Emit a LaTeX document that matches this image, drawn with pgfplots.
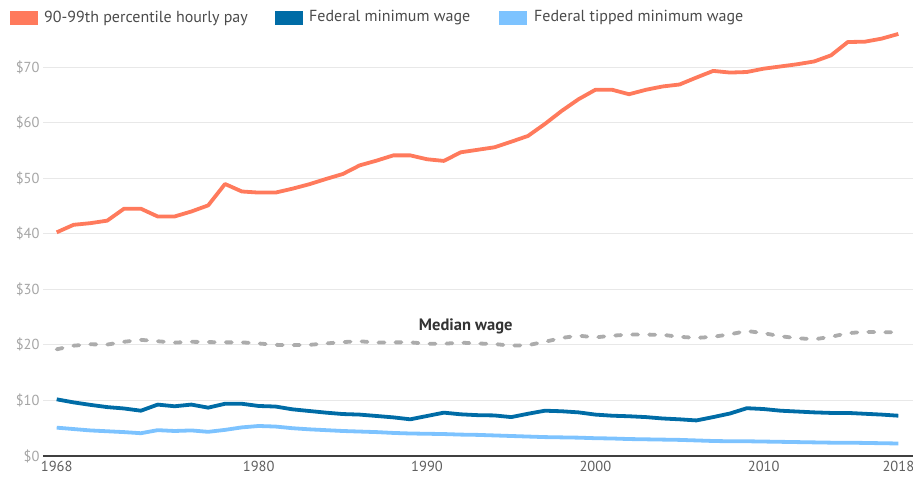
\documentclass[border=0pt]{standalone}
\usepackage{pgfplots}
\pgfplotsset{compat=1.18}
\usepackage{fontspec}
\setmainfont{PT Sans}
\definecolor{cOrange}{RGB}{255,122,92}
\definecolor{cBlue}{RGB}{0,108,166}
\definecolor{cLight}{RGB}{125,195,255}
\definecolor{cGray}{RGB}{172,172,172}
\definecolor{cGrid}{RGB}{232,232,232}
\definecolor{cTick}{RGB}{165,165,165}
\definecolor{cXTick}{RGB}{95,95,95}
\definecolor{cText}{RGB}{75,75,75}
\begin{document}
\begin{tikzpicture}[x=1pt,y=1pt]
\begin{axis}[
  at={(43pt,28pt)}, anchor=south west,
  scale only axis, width=870pt, height=426pt,
  xmin=1967.186, xmax=2018.87, ymin=0, ymax=76.66,
  axis line style={draw=none},
  xtick={1968,1980,1990,2000,2010,2018},
  xticklabels={1968,1980,1990,2000,2010,2018},
  ytick={0,10,20,30,40,50,60,70},
  yticklabels={\$0,\$10,\$20,\$30,\$40,\$50,\$60,\$70},
  tick style={draw=none},
  ymajorgrids, grid style={cGrid, line width=1pt},
  yticklabel style={font=\fontsize{14.5}{16}\selectfont, text=cTick, xshift=0pt},
  xticklabel style={font=\fontsize{14.5}{16}\selectfont, text=cXTick, yshift=-2pt},
  /pgf/number format/assume math mode=true,
  clip=false,
  every axis plot/.append style={line width=3.8pt, line join=round},
]
\draw[color=black!75, line width=1.5pt] (axis cs:1967.186,0) -- (axis cs:2018.87,0);
% median wage
\addplot[cGray, line cap=round, dash pattern=on 6pt off 11pt] coordinates {
(1968,19.2)(1969,19.85)(1970,20.1)(1971,20.05)(1972,20.55)(1973,20.9)(1974,20.65)(1975,20.4)(1976,20.55)(1977,20.5)
(1978,20.45)(1979,20.45)(1980,20.25)(1981,20.0)(1982,19.95)(1983,20.0)(1984,20.25)(1985,20.5)(1986,20.65)(1987,20.4)
(1988,20.45)(1989,20.45)(1990,20.2)(1991,20.2)(1992,20.4)(1993,20.25)(1994,20.15)(1995,19.85)(1996,19.95)(1997,20.55)
(1998,21.25)(1999,21.65)(2000,21.35)(2001,21.65)(2002,21.85)(2003,21.85)(2004,21.8)(2005,21.45)(2006,21.25)(2007,21.45)
(2008,21.9)(2009,22.5)(2010,22.1)(2011,21.55)(2012,21.2)(2013,21.0)(2014,21.45)(2015,22.1)(2016,22.35)(2017,22.25)(2018,22.3)
};
% tipped minimum
\addplot[cLight] coordinates {
(1968,5.1)(1969,4.85)(1970,4.6)(1971,4.45)(1972,4.3)(1973,4.1)(1974,4.65)(1975,4.5)(1976,4.6)(1977,4.35)
(1978,4.7)(1979,5.15)(1980,5.4)(1981,5.3)(1982,5.0)(1983,4.8)(1984,4.65)(1985,4.5)(1986,4.4)(1987,4.3)
(1988,4.15)(1989,4.05)(1990,4.0)(1991,3.95)(1992,3.85)(1993,3.8)(1994,3.7)(1995,3.6)(1996,3.5)(1997,3.4)
(1998,3.35)(1999,3.3)(2000,3.2)(2001,3.15)(2002,3.05)(2003,3.0)(2004,2.95)(2005,2.9)(2006,2.8)(2007,2.7)
(2008,2.65)(2009,2.65)(2010,2.6)(2011,2.55)(2012,2.5)(2013,2.45)(2014,2.4)(2015,2.4)(2016,2.35)(2017,2.3)(2018,2.25)
};
% federal minimum
\addplot[cBlue] coordinates {
(1968,10.2)(1969,9.65)(1970,9.2)(1971,8.8)(1972,8.55)(1973,8.15)(1974,9.25)(1975,8.95)(1976,9.25)(1977,8.7)
(1978,9.4)(1979,9.4)(1980,9.0)(1981,8.9)(1982,8.4)(1983,8.1)(1984,7.8)(1985,7.55)(1986,7.45)(1987,7.2)
(1988,6.95)(1989,6.6)(1990,7.2)(1991,7.8)(1992,7.5)(1993,7.35)(1994,7.3)(1995,7.0)(1996,7.6)(1997,8.15)
(1998,8.05)(1999,7.85)(2000,7.45)(2001,7.25)(2002,7.15)(2003,7.0)(2004,6.75)(2005,6.6)(2006,6.4)(2007,7.0)
(2008,7.65)(2009,8.6)(2010,8.45)(2011,8.15)(2012,8.0)(2013,7.85)(2014,7.75)(2015,7.75)(2016,7.6)(2017,7.45)(2018,7.25)
};
% 90-99th percentile
\addplot[cOrange] coordinates {
(1968,40.25)(1969,41.6)(1970,41.9)(1971,42.35)(1972,44.5)(1973,44.5)(1974,43.1)(1975,43.1)(1976,44.0)(1977,45.1)
(1978,48.95)(1979,47.6)(1980,47.4)(1981,47.4)(1982,48.1)(1983,48.9)(1984,49.85)(1985,50.75)(1986,52.3)(1987,53.15)
(1988,54.1)(1989,54.1)(1990,53.4)(1991,53.1)(1992,54.65)(1993,55.1)(1994,55.55)(1995,56.55)(1996,57.6)(1997,59.75)
(1998,62.1)(1999,64.2)(2000,65.9)(2001,65.9)(2002,65.1)(2003,65.9)(2004,66.5)(2005,66.85)(2006,68.1)(2007,69.3)
(2008,69.0)(2009,69.1)(2010,69.7)(2011,70.1)(2012,70.5)(2013,71.0)(2014,72.1)(2015,74.5)(2016,74.55)(2017,75.1)(2018,75.95)
};
\node[font=\fontsize{16.5}{18}\selectfont\bfseries, text=black!80] at (axis cs:1992.3,23.4) {Median wage};
\end{axis}
% legend
\fill[cOrange] (10pt,459pt) rectangle (38pt,473pt);
\node[anchor=west, inner sep=0pt, font=\fontsize{16}{18}\selectfont, text=cText] at (44pt,466pt) {90-99th percentile hourly pay};
\fill[cBlue] (275pt,459pt) rectangle (303pt,473pt);
\node[anchor=west, inner sep=0pt, font=\fontsize{16}{18}\selectfont, text=cText] at (309pt,466pt) {Federal minimum wage};
\fill[cLight] (499pt,459pt) rectangle (527pt,473pt);
\node[anchor=west, inner sep=0pt, font=\fontsize{16}{18}\selectfont, text=cText] at (534pt,466pt) {Federal tipped minimum wage};
\pgfresetboundingbox
\useasboundingbox (0,0) rectangle (913pt,484pt);
\end{tikzpicture}
\end{document}
